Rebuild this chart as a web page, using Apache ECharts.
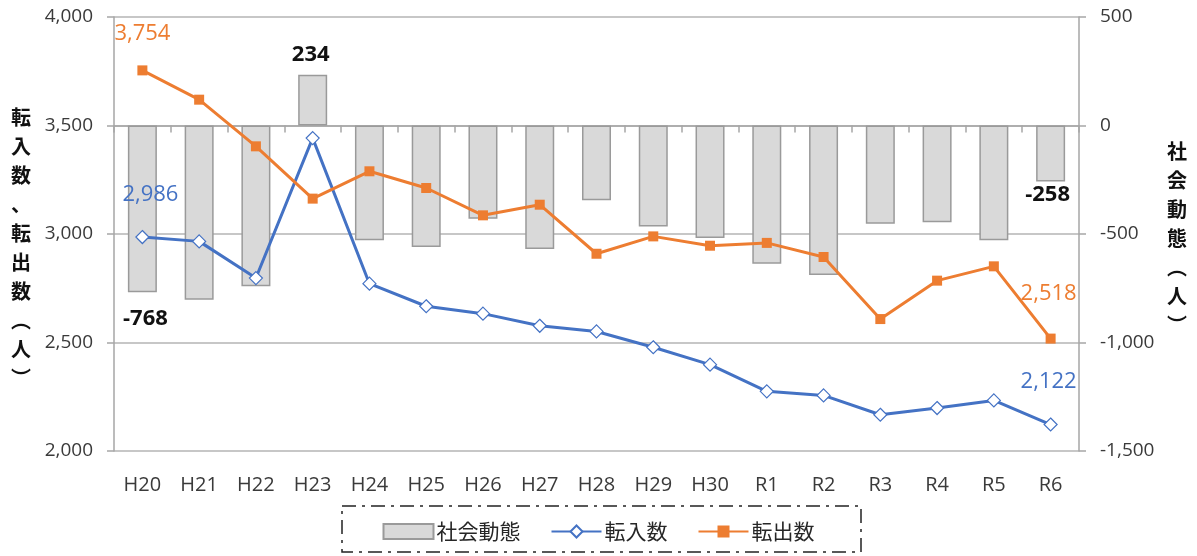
<!DOCTYPE html>
<html>
<head>
<meta charset="utf-8">
<script src="https://cdn.jsdelivr.net/npm/echarts@6/dist/echarts.min.js"></script>
<style>
html,body{margin:0;padding:0;background:#fff;}
#c{width:1197px;height:556px;}
</style>
</head>
<body>
<div id="c"></div>
<script>
const categories = ['H20','H21','H22','H23','H24','H25','H26','H27','H28','H29','H30','R1','R2','R3','R4','R5','R6'];
const socialChange = [-768,-803,-741,234,-529,-560,-430,-569,-345,-465,-518,-637,-689,-453,-446,-529,-258];
const moveIn = [2986,2966,2797,3442,2771,2667,2633,2577,2551,2478,2398,2275,2256,2167,2198,2233,2122];
const moveOut = [3754,3619,3404,3163,3289,3212,3086,3135,2909,2989,2946,2959,2894,2608,2785,2851,2518];
const leftTicks = {min:2000, max:4000, interval:500};
const rightTicks = {min:-1500, max:500, interval:500};
const names = {bar:'社会動態', inLine:'転入数', outLine:'転出数'};
const leftTitle = ['転','入','数','、','転','出','数','︵','人','︶'];
const rightTitle = ['社','会','動','態','︵','人','︶'];

const fmt = v => Number(v).toLocaleString('en-US');
const numFont = "'Open Sans', 'Noto Sans', sans-serif";
const jpFont = "'Noto Sans CJK JP', sans-serif";

const barLabelCfg = {
  0: {position:'bottom', distance:16, offset:[3,0]},
  3: {position:'top', distance:9, offset:[-2,0]},
  16:{position:'bottom', distance:2, offset:[-3,0]}
};
const inLabelCfg = {
  0: {position:'top', distance:24, offset:[8,0]},
  16:{position:'top', distance:25, offset:[-2,0]}
};
const outLabelCfg = {
  0: {position:'top', distance:21, offset:[0,0]},
  16:{position:'top', distance:29, offset:[-2,0]}
};

function build(values, cfg, color){
  return values.map((v,i)=>{
    const c = cfg[i];
    if(!c) return v;
    return {value:v, label:Object.assign({show:true, formatter:p=>fmt(p.value), color:color,
      fontSize:22, fontFamily:numFont}, c)};
  });
}

const barData = build(socialChange, barLabelCfg, '#111').map(d=>{
  if(typeof d === 'object'){ d.label.fontWeight='bold'; }
  return d;
});
const inData = build(moveIn, inLabelCfg, '#4472c4');
const outData = build(moveOut, outLabelCfg, '#ed7d31');

const chart = echarts.init(document.getElementById('c'), null, {renderer:'canvas'});
chart.setOption({
  animation:false,
  backgroundColor:'#fff',
  grid:{left:114, right:118, top:17, bottom:105, containLabel:false},
  legend:{
    data:[{name:names.bar, icon:'rect'}, {name:names.inLine}, {name:names.outLine}],
    left:'center', top:516,
    itemWidth:50, itemHeight:15, itemGap:30,
    textStyle:{fontSize:21, fontFamily:jpFont, color:'#262626', padding:[0,0,0,-2]}
  },
  xAxis:{
    type:'category', data:categories, boundaryGap:true,
    axisLine:{lineStyle:{color:'#a6a6a6', width:1.5}},
    axisTick:{show:true, length:7, lineStyle:{color:'#a6a6a6', width:1.5}},
    axisLabel:{fontSize:20, color:'#3a3a3a', fontFamily:numFont, margin:24}
  },
  yAxis:[
    {type:'value', min:leftTicks.min, max:leftTicks.max, interval:leftTicks.interval,
     axisLine:{show:true, lineStyle:{color:'#a6a6a6', width:1.5}},
     axisTick:{show:true, length:7, lineStyle:{color:'#a6a6a6', width:1.5}},
     splitLine:{show:true, lineStyle:{color:'#b4b4b4', width:1.5}},
     axisLabel:{fontSize:19, color:'#3a3a3a', fontFamily:numFont, margin:21, formatter:fmt}},
    {type:'value', min:rightTicks.min, max:rightTicks.max, interval:rightTicks.interval,
     axisLine:{show:true, lineStyle:{color:'#a6a6a6', width:1.5}},
     axisTick:{show:true, length:7, lineStyle:{color:'#a6a6a6', width:1.5}},
     splitLine:{show:false},
     axisLabel:{fontSize:19, color:'#3a3a3a', fontFamily:numFont, margin:21, formatter:fmt}}
  ],
  series:[
    {name:names.bar, type:'bar', yAxisIndex:1, data:barData, barWidth:29,
     itemStyle:{color:'#d9d9d9', borderColor:'#9a9a9a', borderWidth:1.5}},
    {name:names.inLine, type:'line', yAxisIndex:0, data:inData,
     lineStyle:{color:'#4472c4', width:3},
     itemStyle:{color:'#fff', borderColor:'#4472c4', borderWidth:1.2},
     symbol:'diamond', symbolSize:13, showAllSymbol:true, z:4},
    {name:names.outLine, type:'line', yAxisIndex:0, data:outData,
     lineStyle:{color:'#ed7d31', width:3},
     itemStyle:{color:'#ed7d31'},
     symbol:'rect', symbolSize:10, showAllSymbol:true, z:5}
  ],
  graphic:[
    {type:'text', left:11, top:103, style:{text:leftTitle.join('\n'), font:"bold 20px 'Noto Sans CJK JP'", lineHeight:29, fill:'#111', align:'center'}},
    {type:'text', left:1167, top:137, style:{text:rightTitle.join('\n'), font:"bold 20px 'Noto Sans CJK JP'", lineHeight:29, fill:'#111', align:'center'}},
    {type:'rect', shape:{x:342, y:506, width:519, height:46},
     style:{fill:'none', stroke:'#222', lineWidth:1.5, lineDash:[14,6,3,6]}}
  ]
});
</script>
</body>
</html>
